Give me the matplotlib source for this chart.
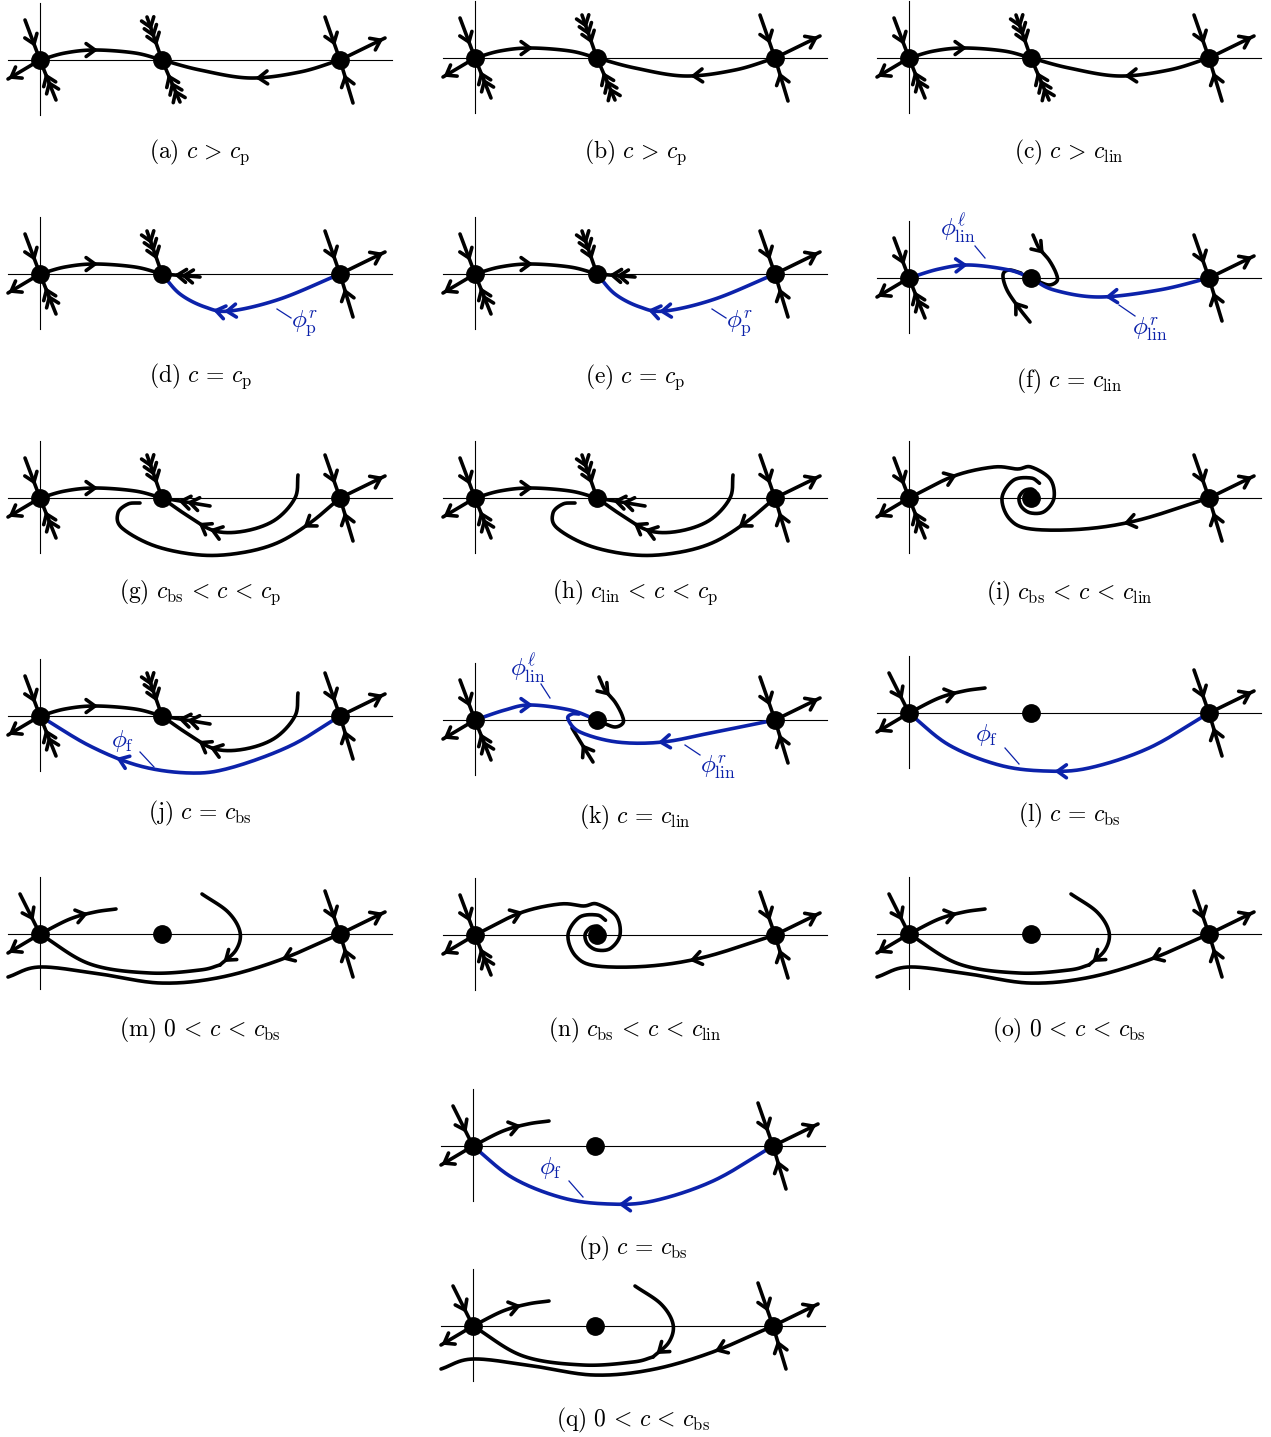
import numpy as np
import matplotlib
matplotlib.use("Agg")
import matplotlib.pyplot as plt

plt.rcParams['mathtext.fontset'] = 'cm'

BLACK = 'black'
BLUE = '#0c22aa'
LW = 2.6

# panel letters, conditions, kind of phase portrait
panel_letters = list('abcdefghijklmnopq')
panel_conds = [r'c > c_{\mathrm{p}}', r'c > c_{\mathrm{p}}', r'c > c_{\mathrm{lin}}',
               r'c = c_{\mathrm{p}}', r'c = c_{\mathrm{p}}', r'c = c_{\mathrm{lin}}',
               r'c_{\mathrm{bs}} < c < c_{\mathrm{p}}', r'c_{\mathrm{lin}} < c < c_{\mathrm{p}}',
               r'c_{\mathrm{bs}} < c < c_{\mathrm{lin}}',
               r'c = c_{\mathrm{bs}}', r'c = c_{\mathrm{lin}}', r'c = c_{\mathrm{bs}}',
               r'0 < c < c_{\mathrm{bs}}', r'c_{\mathrm{bs}} < c < c_{\mathrm{lin}}',
               r'0 < c < c_{\mathrm{bs}}', r'c = c_{\mathrm{bs}}', r'0 < c < c_{\mathrm{bs}}']
panel_kinds = ['A', 'A', 'A', 'D', 'D', 'F', 'G', 'G', 'I', 'J', 'K', 'L', 'M', 'I', 'M', 'L', 'M']
panel_x = [40, 475, 909, 40, 475, 909, 40, 475, 909, 40, 475, 909, 40, 475, 909, 473, 473]
panel_y = [60, 58, 58, 274, 274, 278, 498, 498, 498, 716, 720, 713, 934, 935, 934, 1146, 1326]
caption_y = [152, 152, 152, 376, 377, 381, 592, 592, 593, 813, 817, 815, 1030, 1030, 1030, 1248, 1420]

# equilibria along the axis (relative to the left one)
node_x = [0, 122, 300]

# orbit shapes (relative to the left equilibrium, y pointing down)
curve_lm = [(0, 0), (25, -7), (55, -10), (95, -7), (122, 0)]
curve_mr = [(300, 0), (260, 12), (210, 18), (160, 10), (122, 0)]
curve_d = [(300, 0), (240, 25), (190, 37), (165, 33), (140, 20), (122, 0)]
curve_f_l = [(0, 0), (30, -9), (60, -13), (100, -8), (122, 0)]
curve_f_r = [(300, 0), (250, 12), (190, 19), (145, 12), (122, 0)]
curl_top = [(124, -43), (130, -30), (140, -18), (147, -5), (148, 3), (140, 7), (128, 3)]
curl_bot = [(121, 44), (110, 30), (98, 12), (94, -3), (100, -8), (112, -5)]
curve_g_mid = [(258, -23), (255, 0), (235, 22), (205, 33), (175, 33), (148, 18), (122, 0)]
curve_g_loop = [(300, 0), (270, 25), (237, 45), (200, 55), (160, 57), (115, 48),
                (82, 30), (78, 15), (88, 6), (100, 5)]
curve_j = [(300, 0), (250, 30), (190, 52), (150, 57), (100, 50), (50, 30), (0, 0)]
curve_k_l = [(0, 0), (30, -10), (55, -15), (95, -10), (122, 0)]
curve_k_r = [(300, 0), (240, 12), (188, 22), (142, 22), (105, 12), (93, -1), (97, -6), (104, -6)]
stalk_k = [(118, 42), (108, 26), (97, 8)]
curve_l = [(300, 0), (240, 35), (180, 55), (136, 58), (90, 52), (40, 32), (0, 0)]
curve_up_right = [(0, 0), (30, -15), (55, -22), (76, -25)]
curve_m_out = [(300, 0), (237, 27), (177, 44), (120, 49), (60, 40), (0, 33), (-32, 43)]
curve_m_in = [(0, 0), (50, 30), (110, 39), (160, 36), (180, 31)]
curve_m_hook = [(162, -40), (188, -22), (200, -2), (196, 16), (180, 31)]
spiral_a_head = [(0, 0), (45, -22), (85, -31)]
spiral_a_theta = [-115, -90, -45, 0, 45, 90, 135, 180, 225, 270, 300]
spiral_a_r = [32, 31, 27, 23, 19, 15, 13, 12, 10, 9, 8]
spiral_b_head = [(300, 0), (230, 22), (175, 31)]
spiral_b_theta = [90, 135, 180, 225, 270, 300]
spiral_b_r = [31, 30, 29, 25, 20, 17]


def smooth(pts, n=24):
    P = np.asarray(pts, float)
    P = np.vstack([2 * P[0] - P[1], P, 2 * P[-1] - P[-2]])
    t = np.linspace(0, 1, n, endpoint=False)[:, None]
    out = []
    for i in range(1, len(P) - 2):
        p0, p1, p2, p3 = P[i - 1], P[i], P[i + 1], P[i + 2]
        out.append(0.5 * (2 * p1 + (-p0 + p2) * t + (2 * p0 - 5 * p1 + 4 * p2 - p3) * t ** 2
                          + (-p0 + 3 * p1 - 3 * p2 + p3) * t ** 3))
    out.append(P[-2][None, :])
    return np.vstack(out)


def chev(ax, p, d, col, L=11, a=36):
    d = np.asarray(d, float)
    d = d / np.hypot(*d)
    for s in (1, -1):
        an = np.deg2rad(a * s)
        r = np.array([d[0] * np.cos(an) - d[1] * np.sin(an), d[0] * np.sin(an) + d[1] * np.cos(an)])
        q = p - L * r
        ax.plot([q[0], p[0]], [q[1], p[1]], color=col, lw=LW, solid_capstyle='round', zorder=3)


def along(c, frac):
    seg = np.hypot(*np.diff(c, axis=0).T)
    s = np.concatenate([[0], np.cumsum(seg)])
    i = min(np.searchsorted(s, frac * s[-1]), len(c) - 1)
    i = max(i, 1)
    return c[i], c[i] - c[i - 1]


def curve(ax, o, pts, col=BLACK, chevs=(), lw=LW):
    c = smooth(pts) + o
    ax.plot(c[:, 0], c[:, 1], color=col, lw=lw, solid_capstyle='round', zorder=2)
    for f in chevs:
        p, d = along(c, f)
        chev(ax, p, d, col)


def stalk(ax, node, vec, n, inward=True):
    node = np.asarray(node, float)
    vec = np.asarray(vec, float)
    ax.plot([node[0], node[0] + vec[0]], [node[1], node[1] + vec[1]],
            color=BLACK, lw=LW, solid_capstyle='round', zorder=2)
    if inward:
        for k in range(n):
            chev(ax, node + vec * (0.4 + 0.18 * k), -vec, BLACK)
    else:
        chev(ax, node + vec * 0.9, vec, BLACK)


def spiral(head, theta, r):
    th = np.deg2rad(theta)
    pts = [(node_x[1] + rr * np.cos(t), rr * np.sin(t)) for t, rr in zip(th, r)]
    return list(head) + pts


def label(ax, o, txt, pos, lead):
    ax.text(o[0] + pos[0], o[1] + pos[1], txt, color=BLUE, fontsize=18,
            ha='center', va='center')
    ax.plot([o[0] + lead[0], o[0] + lead[2]], [o[1] + lead[1], o[1] + lead[3]], color=BLUE, lw=0.9)


fig = plt.figure(figsize=(12.71, 14.37), dpi=100)
ax = fig.add_axes([0, 0, 1, 1])
ax.set_xlim(0, 1271)
ax.set_ylim(1437, 0)
ax.axis('off')

for letter, cond, kind, x0, y0, cy in zip(panel_letters, panel_conds, panel_kinds,
                                          panel_x, panel_y, caption_y):
    o = np.array([x0, y0], float)
    L = o + (node_x[0], 0)
    M = o + (node_x[1], 0)
    R = o + (node_x[2], 0)
    # coordinate axes
    ax.plot([x0 - 32, x0 + 352], [y0, y0], color=BLACK, lw=0.8, zorder=1)
    ax.plot([x0, x0], [y0 - 57, y0 + 55], color=BLACK, lw=0.8, zorder=1)

    # left equilibrium
    if kind in ('L', 'M'):
        stalk(ax, L, (-20, -40), 1)
        stalk(ax, L, (-32, 19), 1, inward=False)
        curve(ax, o, curve_up_right, chevs=[0.6])
    else:
        stalk(ax, L, (-15, -40), 1)
        stalk(ax, L, (16, 40), 2)
        stalk(ax, L, (-32, 19), 1, inward=False)

    # right equilibrium
    stalk(ax, R, (-15, -43), 1)
    stalk(ax, R, (13, 43), 1)
    stalk(ax, R, (45, -22), 1, inward=False)

    if kind == 'A':
        stalk(ax, M, (-15, -43), 3)
        stalk(ax, M, (18, 42), 3)
        curve(ax, o, curve_lm, chevs=[0.45])
        curve(ax, o, curve_mr, chevs=[0.45])
    elif kind == 'D':
        stalk(ax, M, (-15, -43), 3)
        stalk(ax, M, (38, 3), 2)
        curve(ax, o, curve_lm, chevs=[0.45])
        curve(ax, o, curve_d, col=BLUE, chevs=[0.6, 0.66])
        label(ax, o, r'$\phi^{r}_{\mathrm{p}}$', (265, 50), (237, 35, 251, 44))
    elif kind == 'F':
        curve(ax, o, curl_top, chevs=[0.25])
        curve(ax, o, curl_bot, chevs=[0.3])
        curve(ax, o, curve_f_l, col=BLUE, chevs=[0.45])
        curve(ax, o, curve_f_r, col=BLUE, chevs=[0.55])
        label(ax, o, r'$\phi^{\ell}_{\mathrm{lin}}$', (49, -50), (66, -32, 76, -20))
        label(ax, o, r'$\phi^{r}_{\mathrm{lin}}$', (241, 52), (210, 27, 226, 38))
    elif kind in ('G', 'J'):
        stalk(ax, M, (-15, -43), 3)
        stalk(ax, M, (48, 8), 2)
        curve(ax, o, curve_lm, chevs=[0.45])
        curve(ax, o, curve_g_mid, chevs=[0.66, 0.73])
        if kind == 'G':
            curve(ax, o, curve_g_loop, chevs=[0.15])
        else:
            curve(ax, o, curve_j, col=BLUE, chevs=[0.72])
            label(ax, o, r'$\phi_{\mathrm{f}}$', (83, 25), (100, 36, 114, 51))
    elif kind == 'I':
        curve(ax, o, spiral(spiral_a_head, spiral_a_theta, spiral_a_r), chevs=[0.2])
        curve(ax, o, spiral(spiral_b_head, spiral_b_theta, spiral_b_r), chevs=[0.3])
    elif kind == 'K':
        curve(ax, o, curl_top, chevs=[0.25])
        curve(ax, o, stalk_k, chevs=[0.45])
        curve(ax, o, curve_k_l, col=BLUE, chevs=[0.45])
        curve(ax, o, curve_k_r, col=BLUE, chevs=[0.5])
        label(ax, o, r'$\phi^{\ell}_{\mathrm{lin}}$', (53, -52), (66, -36, 75, -22))
        label(ax, o, r'$\phi^{r}_{\mathrm{lin}}$', (243, 48), (210, 25, 225, 35))
    elif kind == 'L':
        curve(ax, o, curve_l, col=BLUE, chevs=[0.5])
        label(ax, o, r'$\phi_{\mathrm{f}}$', (78, 22), (96, 35, 110, 51))
    elif kind == 'M':
        curve(ax, o, curve_m_out, chevs=[0.17])
        curve(ax, o, curve_m_in)
        curve(ax, o, curve_m_hook, chevs=[0.92])

    # equilibria
    for p in (L, M, R):
        ax.plot(p[0], p[1], 'o', color=BLACK, ms=12.5, zorder=4)

    cap = cond.replace(' < ', r'\,<\,').replace(' > ', r'\,>\,').replace(' = ', r'\,=\,')
    ax.text(x0 + 160, cy, r'$\mathrm{(%s)}\ %s$' % (letter, cap), fontsize=17,
            ha='center', va='center')

fig.savefig('out.png', dpi=100)
